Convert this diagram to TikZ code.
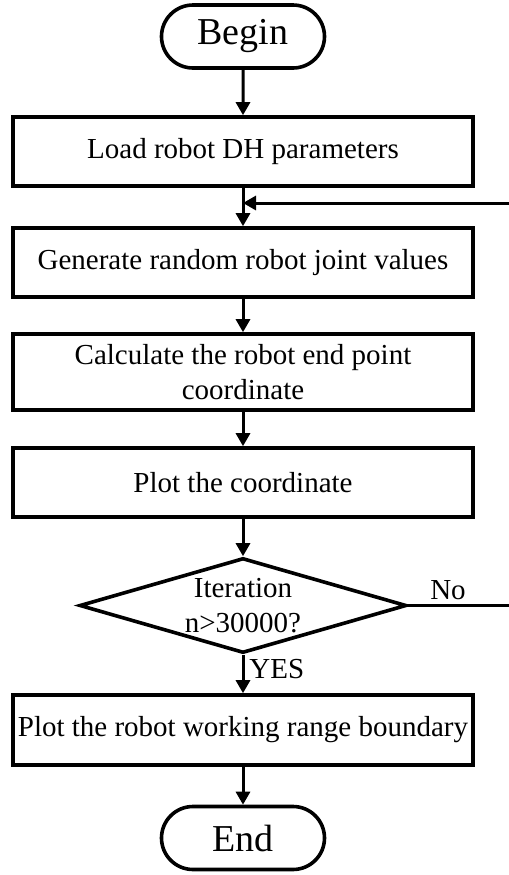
\documentclass[tikz,border=0pt]{standalone}
\usepackage{fontspec}
\setmainfont{Liberation Serif}
\usetikzlibrary{arrows.meta,positioning,shapes.geometric,shapes.misc}
\tikzset{
  % flowchart boxes
  termbox/.style={rounded rectangle,draw,line width=1.8pt,minimum width=81.5pt,minimum height=31.5pt,inner sep=0pt,font=\fontsize{19}{22}\selectfont},
  procbox/.style={rectangle,draw,line width=1.8pt,minimum width=230pt,minimum height=34.5pt,inner sep=0pt,align=center,font=\fontsize{14.5}{17.5}\selectfont},
  decbox/.style={diamond,draw,line width=1.8pt,shape aspect=3.3,minimum width=163.5pt,minimum height=47.5pt,inner sep=0pt,align=center,font=\fontsize{14.5}{17.5}\selectfont},
  % connectors
  flowline/.style={line width=1.5pt,-{Triangle[length=6.5pt,width=7pt]}},
  branchlbl/.style={font=\fontsize{14.5}{17.5}\selectfont,inner sep=0pt},
}

\begin{document}
\begin{tikzpicture}[x=0.5pt,y=-0.5pt]
\useasboundingbox (0,0) rectangle (509,875);
%% centre line of the chart (px)
\def\cx{243}

%% steps
\node[termbox] (begin) at (\cx,36.5) {Begin};
\node[procbox] (load) at (\cx,151.5) {Load robot DH parameters};
\node[procbox] (gen) at (\cx,262.5) {Generate random robot joint values};
\node[procbox,minimum height=38pt] (calc) at (\cx,372) {Calculate the robot end point\\coordinate};
\node[procbox] (plot) at (\cx,482.5) {Plot the coordinate};
\node[decbox] (iter) at (\cx,605.5) {Iteration\\n>30000?};
\node[procbox,minimum height=35pt] (bound) at (\cx,730) {Plot the robot working range boundary};
\node[termbox] (end) at (\cx,838) {End};

%% main flow
\draw[flowline] (begin) -- (load);
\draw[flowline] (load) -- (gen);
\draw[flowline] (gen) -- (calc);
\draw[flowline] (calc) -- (plot);
\draw[flowline] (plot) -- (iter);
\draw[flowline] (iter) -- (bound);
\draw[flowline] (bound) -- (end);

%% loop back (vertical part lies past the right edge)
\coordinate (join) at (\cx,203);
\coordinate (turn) at (512,605.5);
\draw[flowline] (iter.east) -- (turn) |- (join);

%% branch labels
\node[branchlbl,below right=2pt and 3pt of iter.south,anchor=north west] (yes) {YES};
\node[branchlbl,above=2.7pt,anchor=south] (no) at (448,605.5) {No};
\end{tikzpicture}
\end{document}
